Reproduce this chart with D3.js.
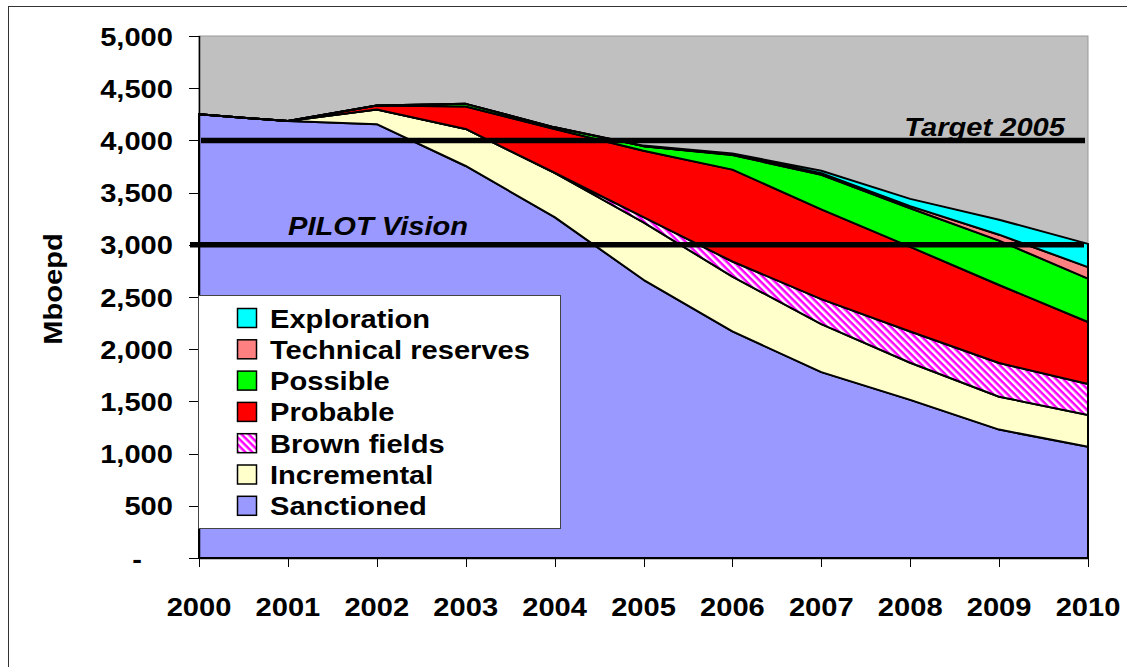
<!DOCTYPE html>
<html>
<head>
<meta charset="utf-8">
<script src="https://cdn.jsdelivr.net/npm/d3@7"></script>
<style>
  body { margin: 0; background: #fff; }
  text { font-family: "Liberation Sans", Arial, sans-serif; font-weight: bold; fill: #000; }
</style>
</head>
<body>
<div id="chart"></div>
<script>
// data (Mboepd)
var years = [2000, 2001, 2002, 2003, 2004, 2005, 2006, 2007, 2008, 2009, 2010];
var sanctioned  = [4250, 4185, 4155, 3755, 3265, 2665, 2170, 1780, 1515, 1230, 1065];
var incremental = [0, 0, 140, 355, 425, 550, 525, 460, 355, 315, 305];
var brownFields = [0, 0, 0, 0, 0, 50, 145, 240, 300, 323, 297];
var probable    = [0, 0, 40, 215, 420, 635, 880, 860, 810, 747, 594];
var possible    = [0, 0, 0, 25, 15, 45, 140, 330, 370, 425, 415];
var technical   = [0, 0, 0, 0, 0, 0, 5, 15, 20, 57, 110];
var exploration = [0, 0, 0, 0, 0, 5, 10, 25, 70, 143, 223];

var seriesNames = ["Sanctioned", "Incremental", "Brown fields", "Probable", "Possible", "Technical reserves", "Exploration"];
var seriesKeys = ["sanctioned", "incremental", "brown", "probable", "possible", "technical", "exploration"];
var seriesColors = ["#9999FF", "#FFFFCC", "url(#brownPat)", "#FF0000", "#00FF00", "#FF8080", "#00FFFF"];
var yTicks = [0, 500, 1000, 1500, 2000, 2500, 3000, 3500, 4000, 4500, 5000];
var refLines = [{value: 4000, label: "Target 2005"}, {value: 3000, label: "PILOT Vision"}];

var width = 1127, height = 667;
var SX = 1.12; // text in the picture is a bit wider than plain Arial

var svg = d3.select("#chart").append("svg")
    .attr("width", width)
    .attr("height", height);

// magenta/white diagonal hatch for brown fields
var defs = svg.append("defs");
var pat = defs.append("pattern")
    .attr("id", "brownPat")
    .attr("patternUnits", "userSpaceOnUse")
    .attr("width", 5)
    .attr("height", 5)
    .attr("patternTransform", "rotate(45)");
pat.append("rect").attr("width", 5).attr("height", 5).attr("fill", "#fff");
pat.append("rect").attr("width", 5).attr("height", 2.5).attr("fill", "#FF00FF");

// outer frame
svg.append("rect")
    .attr("x", 8.5).attr("y", 6.5)
    .attr("width", 1200).attr("height", 700)
    .attr("fill", "none")
    .attr("stroke", "#333")
    .attr("stroke-width", 1);

var x = d3.scaleLinear().domain([2000, 2010]).range([199, 1088]);
var y = d3.scaleLinear().domain([0, 5000]).range([558, 36]);

function stretchText(sel, px, py, str, anchor, size, italic){
    return sel.append("text")
        .attr("transform", "translate(" + px + "," + py + ") scale(" + SX + ",1)")
        .attr("text-anchor", anchor)
        .style("font-size", size + "px")
        .style("font-style", italic ? "italic" : "normal")
        .text(str);
}

// plot background
svg.append("rect")
    .attr("x", x(2000)).attr("y", y(5000))
    .attr("width", x(2010) - x(2000))
    .attr("height", y(0) - y(5000))
    .attr("fill", "#C0C0C0")
    .attr("stroke", "#999")
    .attr("stroke-width", 1);

// stacked areas
var table = years.map(function(yr, i){
    return {year: yr, sanctioned: sanctioned[i], incremental: incremental[i], brown: brownFields[i],
            probable: probable[i], possible: possible[i], technical: technical[i], exploration: exploration[i]};
});
var stacked = d3.stack().keys(seriesKeys)(table);

var area = d3.area()
    .x(function(d){ return x(d.data.year); })
    .y0(function(d){ return y(d[0]); })
    .y1(function(d){ return y(d[1]); });

svg.append("g").selectAll("path")
    .data(stacked)
    .enter()
    .append("path")
    .attr("d", area)
    .attr("fill", function(d, i){ return seriesColors[i]; })
    .attr("stroke", "#000")
    .attr("stroke-width", 2)
    .attr("stroke-linejoin", "round");

// axes
var axisG = svg.append("g");
axisG.append("line")
    .attr("x1", x(2000) + 0.5).attr("x2", x(2000) + 0.5)
    .attr("y1", y(5000)).attr("y2", y(0))
    .attr("stroke", "#000").attr("stroke-width", 1.5);
axisG.append("line")
    .attr("x1", x(2000)).attr("x2", x(2010))
    .attr("y1", y(0) + 0.5).attr("y2", y(0) + 0.5)
    .attr("stroke", "#000").attr("stroke-width", 1.5);

axisG.selectAll(".ytick")
    .data(yTicks)
    .enter()
    .append("line")
    .attr("class", "ytick")
    .attr("x1", x(2000) - 10).attr("x2", x(2000))
    .attr("y1", function(d){ return Math.round(y(d)) + 0.5; })
    .attr("y2", function(d){ return Math.round(y(d)) + 0.5; })
    .attr("stroke", "#000");

yTicks.forEach(function(v){
    var lab = v === 0 ? "-" : d3.format(",")(v);
    stretchText(axisG, v === 0 ? 137 : 173, y(v) + 9.5, lab, v === 0 ? "middle" : "end", 26, false);
});

axisG.selectAll(".xtick")
    .data(years)
    .enter()
    .append("line")
    .attr("class", "xtick")
    .attr("x1", function(d){ return Math.round(x(d)) + 0.5; })
    .attr("x2", function(d){ return Math.round(x(d)) + 0.5; })
    .attr("y1", y(0)).attr("y2", y(0) + 9)
    .attr("stroke", "#000");

years.forEach(function(yr){
    stretchText(axisG, x(yr), 616, String(yr), "middle", 26, false);
});

// y axis title
svg.append("text")
    .attr("transform", "translate(62,289) rotate(-90) scale(" + SX + ",1)")
    .attr("text-anchor", "middle")
    .style("font-size", "26px")
    .text("Mboepd");

// legend
var leg = svg.append("g");
leg.append("rect")
    .attr("x", 198.5).attr("y", 295.5)
    .attr("width", 362).attr("height", 233)
    .attr("fill", "#fff")
    .attr("stroke", "#444")
    .attr("stroke-width", 1);
var legOrder = [6, 5, 4, 3, 2, 1, 0];
legOrder.forEach(function(si, r){
    var cy = 318 + r * 31.3;
    leg.append("rect")
        .attr("x", 237.5).attr("y", cy - 9.5)
        .attr("width", 19).attr("height", 19)
        .attr("fill", seriesColors[si])
        .attr("stroke", "#000")
        .attr("stroke-width", 1.5);
    stretchText(leg, 270, cy + 9.5, seriesNames[si], "start", 26, false);
});

// reference lines
var refG = svg.append("g");
refG.append("line")
    .attr("x1", 201).attr("x2", 1085)
    .attr("y1", y(refLines[0].value)).attr("y2", y(refLines[0].value))
    .attr("stroke", "#000").attr("stroke-width", 5.5);
refG.append("line")
    .attr("x1", 190).attr("x2", 1084)
    .attr("y1", y(refLines[1].value)).attr("y2", y(refLines[1].value))
    .attr("stroke", "#000").attr("stroke-width", 5.5);
stretchText(refG, 1065, 136, refLines[0].label, "end", 26, true);
stretchText(refG, 288, 235, refLines[1].label, "start", 26, true);
</script>
</body>
</html>
